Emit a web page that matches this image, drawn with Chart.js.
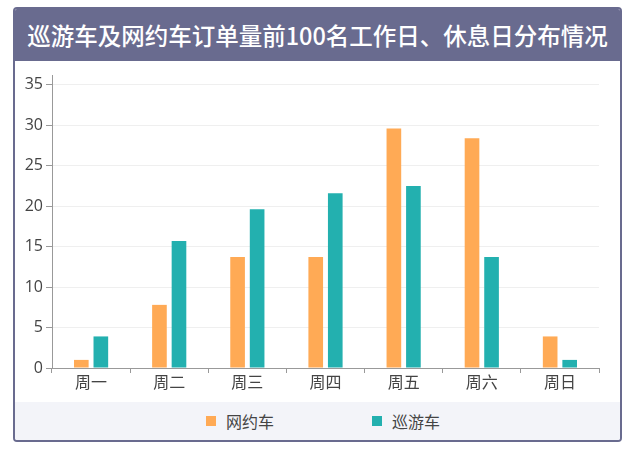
<!DOCTYPE html>
<html>
<head>
<meta charset="utf-8">
<script src="https://cdn.jsdelivr.net/npm/chart.js@4.4.1/dist/chart.umd.min.js"></script>
<style>
  html, body { margin: 0; padding: 0; background: #ffffff; }
  body { width: 640px; height: 450px; position: relative; overflow: hidden; font-family: 'Noto Sans CJK SC', 'Noto Sans', sans-serif; }
  #card { position: absolute; left: 13px; top: 7px; width: 609px; height: 435px; box-sizing: border-box;
          border: 2px solid #696B8F; border-radius: 4px; overflow: hidden; background: #fff; }
  #title { height: 52px; line-height: 52px; background: #696B8F; color: #fff; text-align: center;
           font-size: 23.5px; font-weight: 500; font-family: 'Noto Sans CJK SC', sans-serif; white-space: nowrap; }
  #plot { position: relative; width: 605px; height: 341px; }
  #legend { height: 38px; background: #F3F4F9; display: flex; justify-content: center; align-items: center;
            padding-left: 11px; box-sizing: border-box; }
  .item { display: flex; align-items: center; font-size: 16px; color: #444; margin: 0 49px; }
  .box { width: 10px; height: 10px; margin-right: 10px; }
</style>
</head>
<body>
<div id="card">
  <div id="title">巡游车及网约车订单量前100名工作日、休息日分布情况</div>
  <div id="plot"><canvas id="c" width="605" height="341"></canvas></div>
  <div id="legend"></div>
</div>
<script>
const categories = ['周一', '周二', '周三', '周四', '周五', '周六', '周日'];
const seriesNames = ['网约车', '巡游车'];
const wangyueche = [1, 7.8, 13.7, 13.7, 29.6, 28.4, 3.9];
const xunyouche = [3.9, 15.7, 19.6, 21.6, 22.5, 13.7, 1];
const seriesColors = ['#FFAA55', '#23B0AF'];
const yMax = 36.2;
const yStep = 5;

Chart.defaults.font.family = "'Open Sans', 'Noto Sans CJK SC', sans-serif";

const chart = new Chart(document.getElementById('c'), {
  type: 'bar',
  data: {
    labels: categories,
    datasets: [
      { label: seriesNames[0], data: wangyueche, backgroundColor: seriesColors[0], barPercentage: 0.75, categoryPercentage: 0.5 },
      { label: seriesNames[1], data: xunyouche, backgroundColor: seriesColors[1], barPercentage: 0.75, categoryPercentage: 0.5 }
    ]
  },
  options: {
    responsive: false,
    animation: false,
    layout: { padding: { top: 14, right: 21, left: 0, bottom: 0 } },
    plugins: { legend: { display: false }, tooltip: { enabled: false } },
    scales: {
      x: {
        offset: true,
        grid: { display: true, offset: true, drawOnChartArea: false, drawTicks: true, tickLength: 5, color: '#999' },
        border: { display: true, color: '#999' },
        ticks: { padding: 1, color: '#444', font: { size: 16 } },
        afterFit: s => { s.height = 34; }
      },
      y: {
        min: 0, max: yMax,
        grid: { color: '#EFEFEF', tickColor: '#999', tickLength: 6, drawTicks: true },
        border: { display: true, color: '#999' },
        ticks: { stepSize: yStep, includeBounds: false, padding: 3, color: '#444', font: { size: 16 } },
        afterFit: s => { s.width = 37; }
      }
    }
  }
});

const legend = document.getElementById('legend');
chart.data.datasets.forEach(ds => {
  const item = document.createElement('div');
  item.className = 'item';
  const box = document.createElement('span');
  box.className = 'box';
  box.style.background = ds.backgroundColor;
  const txt = document.createElement('span');
  txt.textContent = ds.label;
  item.appendChild(box);
  item.appendChild(txt);
  legend.appendChild(item);
});
</script>
</body>
</html>
